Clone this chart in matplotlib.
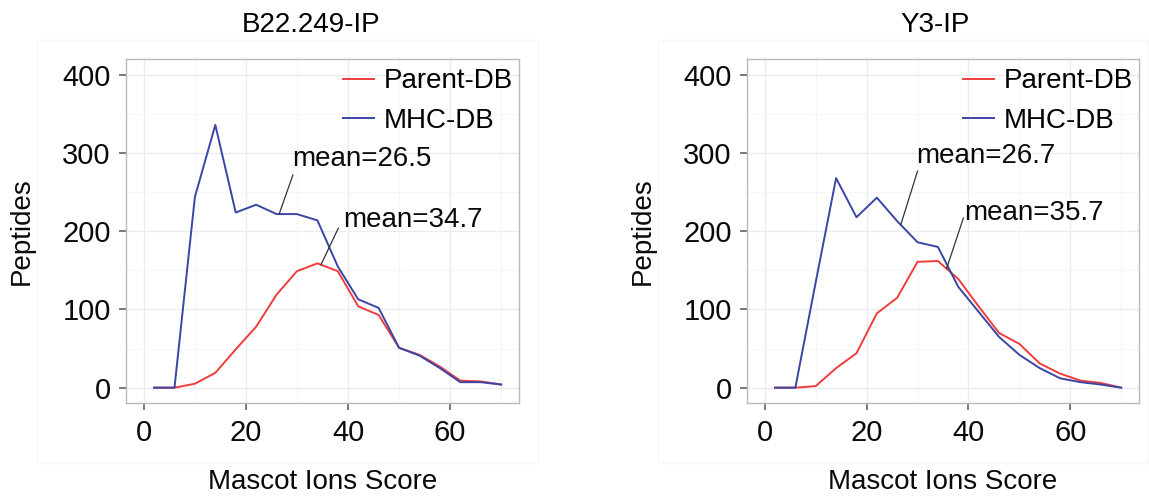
import numpy as np
import matplotlib
matplotlib.use("Agg")
import matplotlib.pyplot as plt
from matplotlib.patches import Rectangle

plt.rcParams["font.family"] = ["Liberation Sans", "DejaVu Sans"]

# score bins (bin centres)
score = [2, 6, 10, 14, 18, 22, 26, 30, 34, 38, 42, 46, 50, 54, 58, 62, 66, 70]

# B22.249-IP
b22_parent = [0, 0, 5, 19, 49, 78, 119, 149, 159, 149, 104, 93, 51, 42, 27, 9, 8, 4]
b22_mhc = [0, 0, 244, 336, 224, 234, 222, 222, 214, 155, 113, 102, 51, 41, 25, 7, 7, 4]
b22_means = {"parent": 34.7, "mhc": 26.5}

# Y3-IP
y3_parent = [0, 0, 2, 25, 44, 95, 115, 161, 162, 139, 104, 70, 56, 31, 18, 9, 6, 0]
y3_mhc = [0, 0, 135, 268, 218, 243, 213, 186, 180, 129, 97, 65, 42, 25, 12, 7, 4, 0]
y3_means = {"parent": 35.7, "mhc": 26.7}

titles = ["B22.249-IP", "Y3-IP"]

RED = "#f03c3c"
BLUE = "#3a45a5"

W, H = 1149, 499
fig = plt.figure(figsize=(W / 100, H / 100), dpi=100)

# faint outer boxes around each panel
for x0, x1 in [(37, 538), (658, 1148)]:
    fig.patches.append(Rectangle((x0 / W, 1 - 463 / H), (x1 - x0) / W, 423 / H,
                                 transform=fig.transFigure, fill=False,
                                 edgecolor="#f7f7f7", linewidth=1.0, zorder=0))

title_x = [311, 935]


def draw_panel(ax, parent, mhc, title, tx):
    ax.plot(score, parent, color=RED, lw=1.4, label="Parent-DB", zorder=3)
    ax.plot(score, mhc, color=BLUE, lw=1.4, label="MHC-DB", zorder=3)

    ax.set_xlim(-3.5, 73.5)
    ax.set_ylim(-20, 420)
    ax.set_xticks([0, 20, 40, 60])
    ax.set_yticks([0, 100, 200, 300, 400])
    ax.set_xticks([10, 30, 50, 70], minor=True)
    ax.set_yticks([50, 150, 250, 350], minor=True)
    ax.grid(which="major", color="#ebebf0", lw=1.0, zorder=0)
    ax.grid(which="minor", color="#f6f6f9", lw=0.8, zorder=0)
    ax.tick_params(which="major", labelsize=21, length=5, width=1.1,
                   color="#555555", pad=6, labelcolor="#0a0a0a")
    ax.tick_params(which="minor", length=0)
    for s in ax.spines.values():
        s.set_color("#b6bac2")
        s.set_linewidth(1.0)

    ax.set_xlabel("Mascot Ions Score", fontsize=20, labelpad=16, color="#0a0a0a")
    ax.set_ylabel("Peptides", fontsize=20, labelpad=20, color="#0a0a0a")

    ax.legend(loc="upper right", bbox_to_anchor=(1.0, 0.99), frameon=False,
              fontsize=20, handlelength=1.15, handletextpad=0.35,
              labelspacing=0.5, borderaxespad=0.1, borderpad=0.1)

    fig.text(tx / W, 1 - 32 / H, title, fontsize=20, ha="center", va="baseline")


ax1 = fig.add_axes([126 / W, 1 - 403.3 / H, 393 / W, 344 / H])
ax2 = fig.add_axes([747 / W, 1 - 403.3 / H, 392 / W, 344 / H])

draw_panel(ax1, b22_parent, b22_mhc, titles[0], title_x[0])
draw_panel(ax2, y3_parent, y3_mhc, titles[1], title_x[1])


def mean_label(ax, m, series, tip, text_xy):
    y = np.interp(m, score, series)
    ax.plot([m, tip[0]], [y, tip[1]], color="#333333", lw=0.9, zorder=4)
    ax.text(text_xy[0], text_xy[1], f"mean={m}", fontsize=20,
            ha="left", va="baseline", color="#0a0a0a", zorder=5)


mean_label(ax1, b22_means["mhc"], b22_mhc, (29.2, 272), (29.0, 283))
mean_label(ax1, b22_means["parent"], b22_parent, (38.1, 204), (39.0, 206))
mean_label(ax2, y3_means["mhc"], y3_mhc, (30.0, 277), (29.7, 288))
mean_label(ax2, y3_means["parent"], y3_parent, (39.0, 217), (39.1, 215))

fig.savefig("out.png", dpi=100)
